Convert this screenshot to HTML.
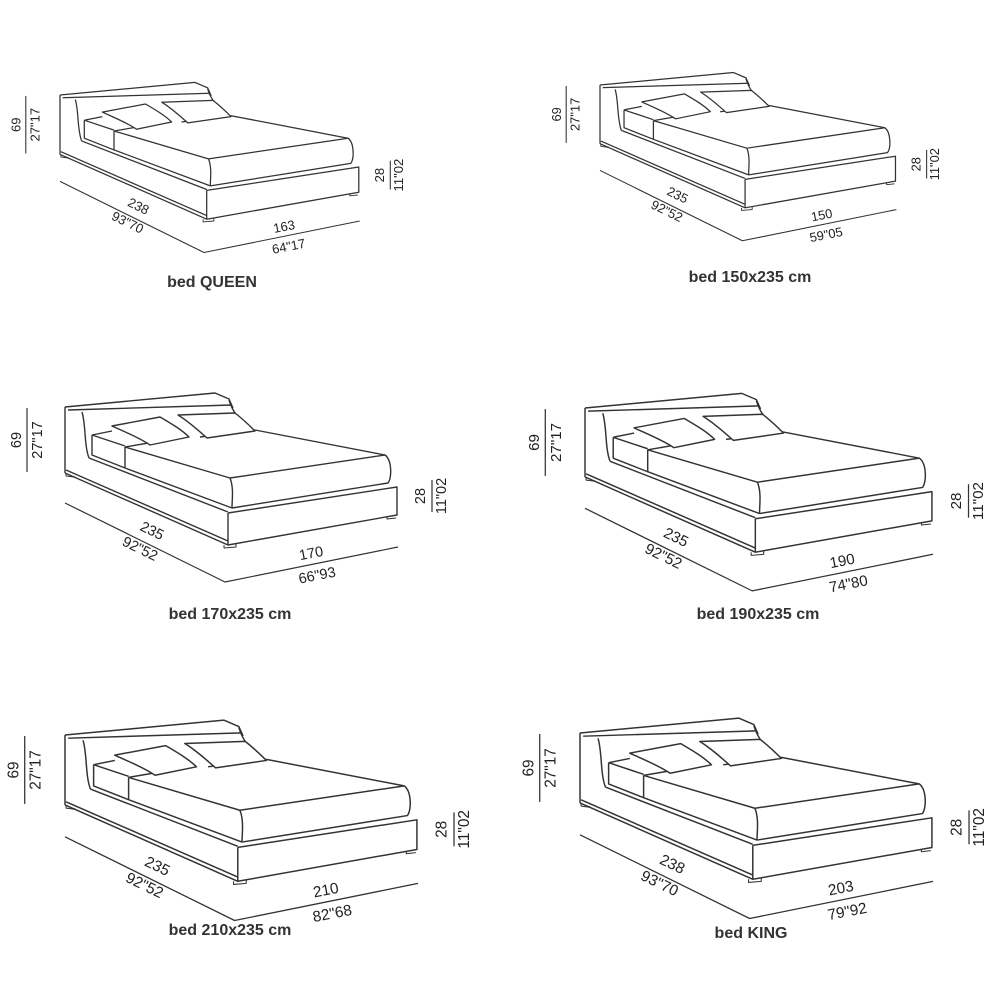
<!DOCTYPE html>
<html><head><meta charset="utf-8"><style>
html,body{margin:0;padding:0;background:#fff}
svg{display:block}
text{font-family:"Liberation Sans",sans-serif;fill:#222}
.n{font-size:14.5px}
.t{font-size:16px;font-weight:bold;fill:#333}
</style></head><body>
<svg width="1000" height="1000" viewBox="0 0 1000 1000" xmlns="http://www.w3.org/2000/svg">
<defs>
<g id="bed" fill="none" stroke="#333" stroke-width="1.4" stroke-linejoin="round">
  <path d="M65,407 L215,393 L229,399 L233,408"/>
  <path d="M68,410 L232,405"/>
  <path d="M65,407 L65,473"/>
  <path d="M82,412 C86,425 84,445 89,458"/>
  <path d="M229,400 C232,410 238,420 250,428"/>
  <path d="M65,473 L228,545 L397,515 L397,487 L228,513"/>
  <path d="M228,513 L228,545"/>
  <path d="M89,458 L228,512"/>
  <path d="M66,470 L228,541"/>
  <path d="M125,447 L230,478 L385,455 C392,460 392,478 388,483 L232,508"/>
  <path d="M230,478 C234,488 232,500 232,508"/>
  <path d="M255,430 L385,455"/>
  <path d="M125,447 L125,468 L232,508"/>
  <path d="M125,447 L160,441 M200,437 L255,430"/>
  <path d="M92,435 L112,431 M92,435 L125,446 M92,435 L92,455 L125,468"/>
  <path d="M112,426 L160,417 C172,424 182,430 189,437 L150,445 C140,438 125,432 112,426 Z" fill="#fff"/>
  <path d="M178,415 L235,413 C244,420 250,426 255,431 L207,438 C198,430 188,421 178,415 Z" fill="#fff"/>
  <path d="M224,545 L224,548 L236,547 L236,544" stroke-width="1"/>
  <path d="M387,517 L387,519 L396,518" stroke-width="1"/>
  <path d="M66,473 L66,476 L74,477 L74,476" stroke-width="1"/>
  <path d="M27,408 L27,472" stroke-width="1.2"/>
  <path d="M432,480 L432,512" stroke-width="1.2"/>
  <path d="M65,503 L225,582 L398,547" stroke-width="1.2"/>
</g>
</defs>

<g transform="translate(60,95) scale(0.9) translate(-65,-407)">
  <use href="#bed"/>
  <text class="n" transform="translate(21,440) rotate(-90)" text-anchor="middle">69</text>
  <text class="n" transform="translate(42,440) rotate(-90)" text-anchor="middle">27"17</text>
  <text class="n" transform="translate(425,496) rotate(-90)" text-anchor="middle">28</text>
  <text class="n" transform="translate(446,496) rotate(-90)" text-anchor="middle">11"02</text>
  <text class="n" transform="translate(150,535) rotate(26)" text-anchor="middle">238</text>
  <text class="n" transform="translate(138,553) rotate(26)" text-anchor="middle">93"70</text>
  <text class="n" transform="translate(315,558) rotate(-11)" text-anchor="middle">163</text>
  <text class="n" transform="translate(320,580) rotate(-11)" text-anchor="middle">64"17</text>
</g>
<text class="t" x="212" y="287" text-anchor="middle">bed QUEEN</text>

<g transform="translate(600,85) scale(0.89) translate(-65,-407)">
  <use href="#bed"/>
  <text class="n" transform="translate(21,440) rotate(-90)" text-anchor="middle">69</text>
  <text class="n" transform="translate(42,440) rotate(-90)" text-anchor="middle">27"17</text>
  <text class="n" transform="translate(425,496) rotate(-90)" text-anchor="middle">28</text>
  <text class="n" transform="translate(446,496) rotate(-90)" text-anchor="middle">11"02</text>
  <text class="n" transform="translate(150,535) rotate(26)" text-anchor="middle">235</text>
  <text class="n" transform="translate(138,553) rotate(26)" text-anchor="middle">92"52</text>
  <text class="n" transform="translate(315,558) rotate(-11)" text-anchor="middle">150</text>
  <text class="n" transform="translate(320,580) rotate(-11)" text-anchor="middle">59"05</text>
</g>
<text class="t" x="750" y="282" text-anchor="middle">bed 150x235 cm</text>

<g>
  <use href="#bed"/>
  <text class="n" transform="translate(21,440) rotate(-90)" text-anchor="middle">69</text>
  <text class="n" transform="translate(42,440) rotate(-90)" text-anchor="middle">27"17</text>
  <text class="n" transform="translate(425,496) rotate(-90)" text-anchor="middle">28</text>
  <text class="n" transform="translate(446,496) rotate(-90)" text-anchor="middle">11"02</text>
  <text class="n" transform="translate(150,535) rotate(26)" text-anchor="middle">235</text>
  <text class="n" transform="translate(138,553) rotate(26)" text-anchor="middle">92"52</text>
  <text class="n" transform="translate(312,558) rotate(-11)" text-anchor="middle">170</text>
  <text class="n" transform="translate(318,580) rotate(-11)" text-anchor="middle">66"93</text>
</g>
<text class="t" x="230" y="619" text-anchor="middle">bed 170x235 cm</text>

<g transform="translate(585,408) scale(1.045) translate(-65,-407)">
  <use href="#bed"/>
  <text class="n" transform="translate(21,440) rotate(-90)" text-anchor="middle">69</text>
  <text class="n" transform="translate(42,440) rotate(-90)" text-anchor="middle">27"17</text>
  <text class="n" transform="translate(425,496) rotate(-90)" text-anchor="middle">28</text>
  <text class="n" transform="translate(446,496) rotate(-90)" text-anchor="middle">11"02</text>
  <text class="n" transform="translate(150,535) rotate(26)" text-anchor="middle">235</text>
  <text class="n" transform="translate(138,553) rotate(26)" text-anchor="middle">92"52</text>
  <text class="n" transform="translate(312,558) rotate(-11)" text-anchor="middle">190</text>
  <text class="n" transform="translate(318,580) rotate(-11)" text-anchor="middle">74"80</text>
</g>
<text class="t" x="758" y="619" text-anchor="middle">bed 190x235 cm</text>

<g transform="translate(65,735) scale(1.06) translate(-65,-407)">
  <use href="#bed"/>
  <text class="n" transform="translate(21,440) rotate(-90)" text-anchor="middle">69</text>
  <text class="n" transform="translate(42,440) rotate(-90)" text-anchor="middle">27"17</text>
  <text class="n" transform="translate(425,496) rotate(-90)" text-anchor="middle">28</text>
  <text class="n" transform="translate(446,496) rotate(-90)" text-anchor="middle">11"02</text>
  <text class="n" transform="translate(150,535) rotate(26)" text-anchor="middle">235</text>
  <text class="n" transform="translate(138,553) rotate(26)" text-anchor="middle">92"52</text>
  <text class="n" transform="translate(312,558) rotate(-11)" text-anchor="middle">210</text>
  <text class="n" transform="translate(318,580) rotate(-11)" text-anchor="middle">82"68</text>
</g>
<text class="t" x="230" y="935" text-anchor="middle">bed 210x235 cm</text>

<g transform="translate(580,733) scale(1.06) translate(-65,-407)">
  <use href="#bed"/>
  <text class="n" transform="translate(21,440) rotate(-90)" text-anchor="middle">69</text>
  <text class="n" transform="translate(42,440) rotate(-90)" text-anchor="middle">27"17</text>
  <text class="n" transform="translate(425,496) rotate(-90)" text-anchor="middle">28</text>
  <text class="n" transform="translate(446,496) rotate(-90)" text-anchor="middle">11"02</text>
  <text class="n" transform="translate(150,535) rotate(26)" text-anchor="middle">238</text>
  <text class="n" transform="translate(138,553) rotate(26)" text-anchor="middle">93"70</text>
  <text class="n" transform="translate(312,558) rotate(-11)" text-anchor="middle">203</text>
  <text class="n" transform="translate(318,580) rotate(-11)" text-anchor="middle">79"92</text>
</g>
<text class="t" x="751" y="938" text-anchor="middle">bed KING</text>
</svg>
</body></html>
